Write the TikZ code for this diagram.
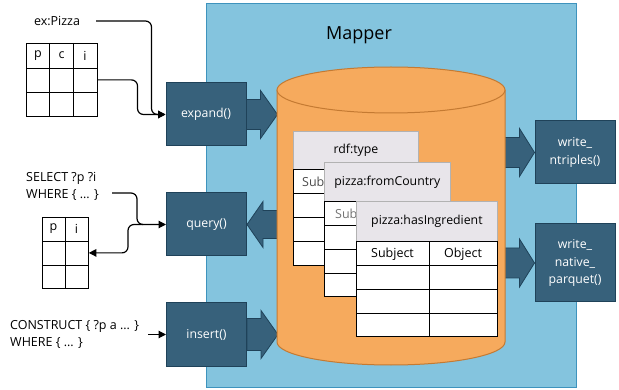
\documentclass[tikz,border=0pt]{standalone}
\usepackage{fontspec}
\setmainfont{Open Sans}
\usetikzlibrary{arrows.meta,calc}
\definecolor{mapperbg}{HTML}{84C4DE}
\definecolor{mapperln}{HTML}{3E93BD}
\definecolor{dbfill}{HTML}{F6AA5D}
\definecolor{dbline}{HTML}{C47A32}
\definecolor{opfill}{HTML}{37617B}
\definecolor{opline}{HTML}{1F4259}
\definecolor{hdrfill}{HTML}{E8E5EA}

\begin{document}
\begin{tikzpicture}[x=1pt,y=1pt,
  op/.style={draw=opline,fill=opfill,line width=1pt,text=white,minimum width=80pt,minimum height=63pt,inner sep=1pt,align=center,font=\fontsize{12.3}{17.5}\selectfont},
  bigarrow/.style={draw=opline,fill=opfill,line width=0.8pt,line join=miter},
  hdr/.style={draw=black!30,fill=hdrfill,line width=0.8pt,anchor=north west,font=\fontsize{12.3}{14}\selectfont},
  cell/.style={draw=black,fill=white,line width=0.8pt},
  conn/.style={line width=1.2pt,rounded corners=6pt,-{Triangle[length=7.5pt,width=7.5pt]}},
  lbl/.style={font=\fontsize{12.5}{17}\selectfont,inner sep=0pt},
]
\useasboundingbox (0,0) rectangle (619,-390);
\def\rowh{23.75}
% mapper background
\draw[mapperln,fill=mapperbg,line width=1pt] (206,-4) rectangle (576,-387);
\node[font=\fontsize{18}{20}\selectfont] (title) at (359,-35) {Mapper};
% operations
\node[op] (expand) at (206,-114.5) {expand()};
\node[op] (query) at (206.5,-224.5) {query()};
\node[op] (insert) at (206.5,-334.5) {insert()};
\node[op] (ntriples) at (575,-152.5) {write\_\\ntriples()};
\node[op,minimum height=78pt] (parquet) at (575,-263) {write\_\\native\_\\parquet()};
% block arrows
\draw[bigarrow] ($(expand.east)+(0,15)$) -- ++(14,0) -- ++(0,9) -- ++(17,-24) -- ++(-17,-24) -- ++(0,9) -- ++(-14,0) -- cycle;
\draw[bigarrow] (query.east) -- ++(16,23) -- ++(0,-9) -- ++(25,0) -- ++(0,-28) -- ++(-25,0) -- ++(0,-9) -- cycle;
\draw[bigarrow] ($(insert.east)+(0,16)$) -- ++(14,0) -- ++(0,8) -- ++(17,-24) -- ++(-17,-24) -- ++(0,8) -- ++(-14,0) -- cycle;
\draw[bigarrow] ($(ntriples.west)+(-35,15)$) -- ++(20,0) -- ++(0,9) -- ++(15,-24) -- ++(-15,-24) -- ++(0,9) -- ++(-20,0) -- cycle;
\draw[bigarrow] ($(parquet.west)+(-35,15)$) -- ++(20,0) -- ++(0,9) -- ++(15,-24) -- ++(-15,-24) -- ++(0,9) -- ++(-20,0) -- cycle;
% store
\draw[dbline,fill=dbfill,line width=1pt] (277,-90) -- (277,-342) arc[start angle=180,end angle=360,x radius=114,y radius=23] -- (505,-90);
\draw[dbline,fill=dbfill,line width=1pt] (391,-90) ellipse[x radius=114,y radius=23];
% tables in the store
\node[hdr,minimum width=125pt,minimum height=38pt] (typehd) at (293,-131) {rdf:type};
\foreach \r in {0,...,3}
  \draw[cell] ($(typehd.south west)+(0,-24*\r)$) rectangle ++(62,-24) rectangle ++(63,24);
\node[lbl,text=black!70,anchor=west] (typesubj) at ($(typehd.south west)+(9,-12)$) {Sub};
\node[hdr,minimum width=126pt,minimum height=39pt] (countryhd) at (324,-162) {pizza:fromCountry};
\foreach \r in {0,...,3}
  \draw[cell] ($(countryhd.south west)+(0,-\rowh*\r)$) rectangle ++(63,-\rowh) rectangle ++(63,\rowh);
\node[lbl,text=black!55,anchor=west] (countrysubj) at ($(countryhd.south west)+(11,-12)$) {Sub};
\node[hdr,minimum width=141pt,minimum height=40pt] (ingrhd) at (356,-201) {pizza:hasIngredient};
\foreach \r in {0,...,3}
  \draw[cell] ($(ingrhd.south west)+(0,-\rowh*\r)$) rectangle ++(73,-\rowh) rectangle ++(68,\rowh);
\node[lbl] (ingrsubj) at ($(ingrhd.south west)+(36.5,-12)$) {Subject};
\node[lbl] (ingrobj) at ($(ingrhd.south west)+(107,-12)$) {Object};
% expand inputs
\node[lbl] (expr) at (57,-21) {ex:Pizza};
\node[cell,minimum width=71pt,minimum height=73pt,anchor=north west] (pcitab) at (26,-43) {};
\foreach \y in {25,49} \draw[line width=0.8pt] ($(pcitab.north west)+(0,-\y)$) -- ++(71,0);
\foreach \x in {23.5,47} \draw[line width=0.8pt] ($(pcitab.north west)+(\x,0)$) -- ++(0,-73);
\node[lbl] (colp) at ($(pcitab.north west)+(12,-12.5)$) {p};
\node[lbl] (colc) at ($(pcitab.north west)+(35.5,-12.5)$) {c};
\node[lbl] (coli) at ($(pcitab.north west)+(59,-12.5)$) {i};
\draw[conn] ([xshift=16pt]expr.east) -| ([xshift=-14pt]expand.west) -- (expand.west);
\draw[conn] (pcitab.east) -| ([xshift=-28pt]expand.west) -- (expand.west);
% query in and out
\node[lbl,align=left,anchor=west] (select) at (26,-186.5) {SELECT ?p ?i\\WHERE \{ ... \}};
\node[cell,minimum width=46pt,minimum height=71pt,anchor=north west] (pitab) at (42,-217) {};
\foreach \y in {24,48} \draw[line width=0.8pt] ($(pitab.north west)+(0,-\y)$) -- ++(46,0);
\draw[line width=0.8pt] ($(pitab.north west)+(23,0)$) -- ++(0,-71);
\node[lbl] (resp) at ($(pitab.north west)+(11.5,-12)$) {p};
\node[lbl] (resi) at ($(pitab.north west)+(34.5,-12)$) {i};
\draw[conn] ([xshift=13pt,yshift=-6.5pt]select.east) -| ([xshift=-29pt]query.west) -- (query.west);
\draw[conn] ([xshift=-23pt]query.west) -- ([xshift=-38pt]query.west) |- (pitab.east);
% insert input
\node[lbl,align=left,anchor=west] (construct) at (10,-334.5) {CONSTRUCT \{ ?p a ... \}\\WHERE \{ ... \}};
\draw[conn] ([xshift=9pt]construct.east |- insert.west) -- (insert.west);
\end{tikzpicture}
\end{document}
